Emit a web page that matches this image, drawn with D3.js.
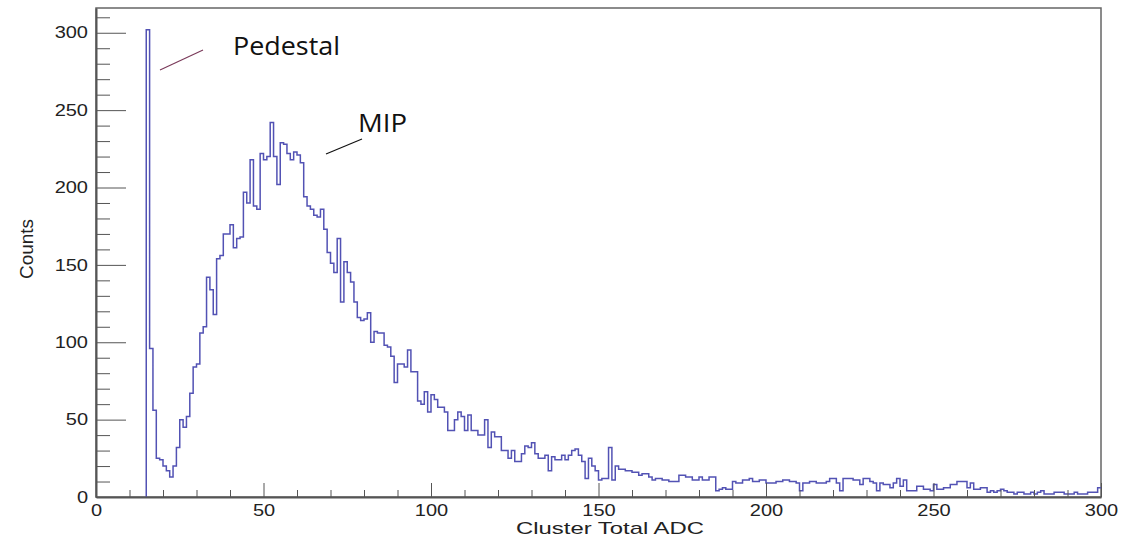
<!DOCTYPE html>
<html>
<head>
<meta charset="utf-8">
<script src="https://cdn.jsdelivr.net/npm/d3@7"></script>
<style>
  html, body { margin: 0; padding: 0; background: #fff; }
  svg { display: block; }
  .tick text { font-family: "Liberation Sans", Arial, sans-serif; font-size: 16px; fill: #222; }
  .axis path, .axis line { stroke: #555; }
</style>
</head>
<body>
<svg id="chart" width="1134" height="543"></svg>
<script>
// Histogram of cluster total ADC, 1 ADC per bin, first filled bin at 15
const binLow = 15;
const binWidth = 1;
const xDomain = [0, 300];
const yDomain = [0, 316];
const xMajorTicks = [0, 50, 100, 150, 200, 250, 300];
const yMajorTicks = [0, 50, 100, 150, 200, 250, 300];
const xTitle = "Cluster Total ADC";
const yTitle = "Counts";
const annotations = ["Pedestal", "MIP"];

const counts = [
  302, 96, 56, 25, 24, 20, 17, 13, 20, 32,        // 15-24
  50, 45, 52, 67, 84, 86, 106, 110, 142, 134,     // 25-34
  118, 154, 156, 170, 170, 176, 161, 167, 168, 197, // 35-44
  190, 218, 188, 186, 222, 218, 220, 242, 220, 202, // 45-54
  229, 228, 222, 218, 223, 221, 216, 194, 188, 186, // 55-64
  182, 181, 186, 173, 158, 151, 145, 167, 126, 152, // 65-74
  145, 139, 126, 116, 114, 115, 119, 100, 107, 106, // 75-84
  106, 98, 97, 91, 74, 86, 86, 84, 95, 81,        // 85-94
  81, 62, 60, 68, 55, 66, 63, 58, 58, 55,         // 95-104
  43, 43, 50, 55, 52, 43, 53, 43, 43, 40,         // 105-114
  40, 50, 32, 42, 39, 39, 30, 30, 25, 30,         // 115-124
  23, 23, 28, 33, 32, 35, 28, 25, 25, 27,         // 125-134
  17, 26, 24, 24, 27, 24, 27, 30, 31, 27,         // 135-144
  23, 12, 25, 20, 17, 11, 12, 12, 32, 11,         // 145-154
  20, 18, 18, 17, 17, 16, 16, 14, 15, 15,         // 155-164
  13, 11, 12, 12, 11, 11, 10, 10, 10, 14,         // 165-174
  14, 13, 13, 11, 11, 13, 11, 11, 13, 13,         // 175-184
  4, 5, 6, 5, 5, 10, 9, 9, 11, 11,                // 185-194
  12, 10, 10, 11, 11, 9, 9, 9, 10, 10,            // 195-204
  11, 11, 10, 10, 9, 4, 9, 9, 10, 10,             // 205-214
  9, 9, 9, 10, 12, 12, 9, 4, 12, 12,              // 215-224
  12, 11, 11, 8, 12, 12, 10, 9, 4, 9,             // 225-234
  8, 8, 6, 9, 12, 7, 11, 4, 4, 4,                 // 235-244
  7, 7, 5, 5, 4, 8, 5, 5, 6, 6,                   // 245-254
  8, 8, 10, 10, 10, 6, 9, 5, 5, 6,                // 255-264
  6, 3, 4, 3, 4, 5, 4, 3, 3, 2,                   // 265-274
  3, 3, 2, 2, 3, 2, 3, 4, 2, 2,                   // 275-284
  2, 3, 3, 3, 2, 2, 2, 3, 2, 2,                   // 285-294
  2, 3, 3, 3, 6                                   // 295-299
];

const svg = d3.select("#chart");
const frame = { left: 96, right: 1101, top: 8, bottom: 497 };

const x = d3.scaleLinear().domain(xDomain).range([frame.left, frame.right]);
const y = d3.scaleLinear().domain(yDomain).range([frame.bottom, frame.top]);

// Frame around the plot area
svg.append("rect")
  .attr("x", frame.left).attr("y", frame.top)
  .attr("width", frame.right - frame.left).attr("height", frame.bottom - frame.top)
  .attr("fill", "none").attr("stroke", "#666").attr("stroke-width", 1.5);

// Step outline of the histogram, rising from the baseline at the first filled bin
const pts = [{ x: binLow, c: 0 }];
counts.forEach((c, i) => pts.push({ x: binLow + i * binWidth, c }));
pts.push({ x: binLow + counts.length * binWidth, c: counts[counts.length - 1] });

const step = d3.line()
  .x(d => x(d.x))
  .y(d => y(d.c))
  .curve(d3.curveStepAfter);

svg.append("path")
  .datum(pts)
  .attr("d", step)
  .attr("fill", "none")
  .attr("stroke", "#5252b4")
  .attr("stroke-width", 1.5)
  .attr("stroke-linejoin", "miter");

// Minor ticks every 10 units, drawn inward
const xMinor = d3.range(xDomain[0], xDomain[1] + 1, 10).filter(v => v % 50 !== 0);
const yMinor = d3.range(0, yDomain[1], 10).filter(v => v % 50 !== 0);

svg.append("g").attr("class", "axis")
  .attr("transform", `translate(0,${frame.bottom})`)
  .call(d3.axisBottom(x).tickValues(xMinor).tickSize(-7).tickSizeOuter(0).tickFormat(""))
  .call(g => g.select(".domain").remove());

svg.append("g").attr("class", "axis")
  .attr("transform", `translate(${frame.left},0)`)
  .call(d3.axisLeft(y).tickValues(yMinor).tickSize(-14).tickSizeOuter(0).tickFormat(""))
  .call(g => g.select(".domain").remove());

// Major ticks with labels
const xAxis = svg.append("g").attr("class", "axis")
  .attr("transform", `translate(0,${frame.bottom})`)
  .call(d3.axisBottom(x).tickValues(xMajorTicks).tickSize(-14).tickSizeOuter(0).tickPadding(8).tickFormat(d3.format("d")));
xAxis.select(".domain").attr("stroke", "#555").attr("stroke-width", 2);

const yAxis = svg.append("g").attr("class", "axis")
  .attr("transform", `translate(${frame.left},0)`)
  .call(d3.axisLeft(y).tickValues(yMajorTicks).tickSize(-30).tickSizeOuter(0).tickPadding(8).tickFormat(d3.format("d")));
yAxis.select(".domain").attr("stroke", "#555").attr("stroke-width", 2);

// Labels are drawn slightly wide
svg.selectAll(".tick text").each(function () {
  const w = this.getComputedTextLength();
  d3.select(this).attr("textLength", w * 1.25).attr("lengthAdjust", "spacingAndGlyphs");
});

// Axis titles
svg.append("text")
  .attr("x", 610).attr("y", 534)
  .attr("text-anchor", "middle")
  .attr("font-family", "Liberation Sans, Arial, sans-serif")
  .attr("font-size", 17).attr("fill", "#222")
  .attr("textLength", 188).attr("lengthAdjust", "spacingAndGlyphs")
  .text(xTitle);

svg.append("text")
  .attr("transform", "translate(33,249) rotate(-90)")
  .attr("text-anchor", "middle")
  .attr("font-family", "Liberation Sans, Arial, sans-serif")
  .attr("font-size", 19).attr("fill", "#222")
  .text(yTitle);

// Peak annotations with pointer lines
svg.append("line")
  .attr("x1", 160).attr("y1", 70).attr("x2", 203).attr("y2", 50)
  .attr("stroke", "#7a3a5a").attr("stroke-width", 1.2);
svg.append("text")
  .attr("x", 233).attr("y", 55)
  .attr("font-family", "Open Sans, Noto Sans, sans-serif")
  .attr("font-size", 25).attr("fill", "#111")
  .attr("textLength", 107).attr("lengthAdjust", "spacingAndGlyphs")
  .text(annotations[0]);

svg.append("line")
  .attr("x1", 326).attr("y1", 154).attr("x2", 362).attr("y2", 139)
  .attr("stroke", "#111").attr("stroke-width", 1.2);
svg.append("text")
  .attr("x", 358).attr("y", 132)
  .attr("font-family", "Open Sans, Noto Sans, sans-serif")
  .attr("font-size", 25).attr("fill", "#111")
  .attr("textLength", 49).attr("lengthAdjust", "spacingAndGlyphs")
  .text(annotations[1]);
</script>
</body>
</html>
